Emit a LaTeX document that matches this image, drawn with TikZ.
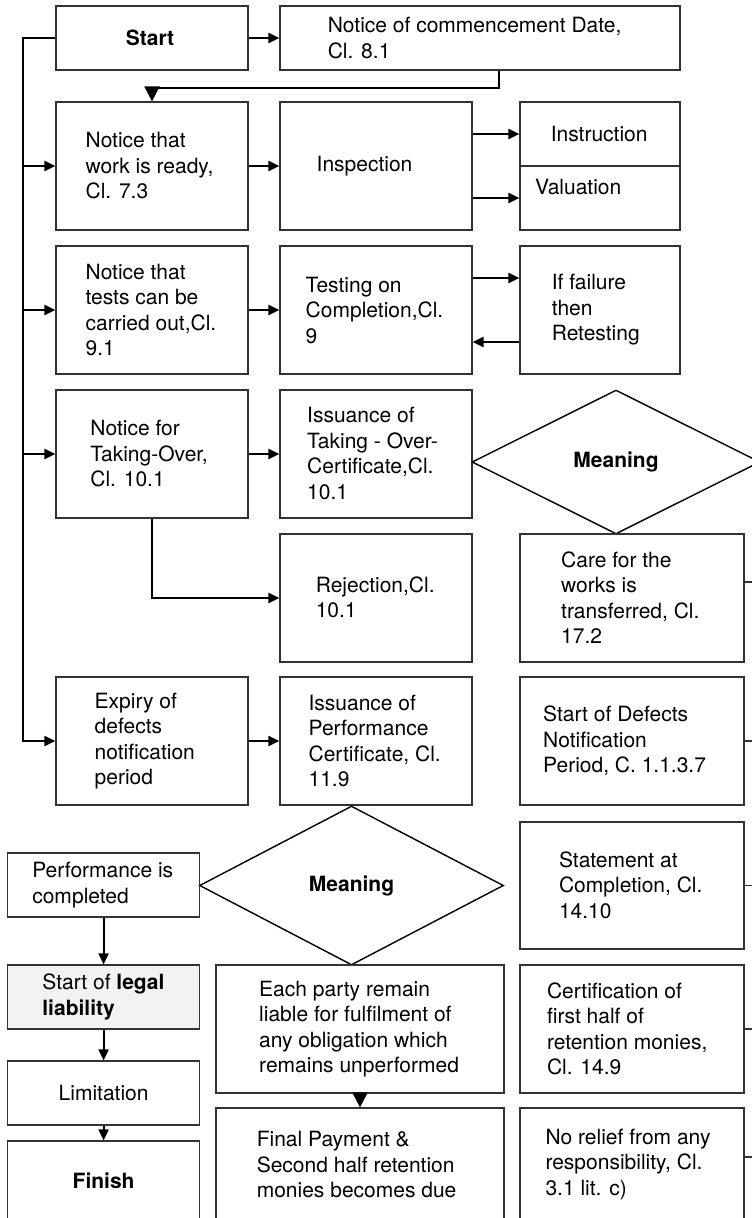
\documentclass[tikz,border=0pt]{standalone}
\usepackage{fontspec}
\setmainfont{TeX Gyre Heros}
\usetikzlibrary{arrows.meta,shapes.geometric,calc}
\definecolor{boxc}{HTML}{333333}
\definecolor{legalfill}{HTML}{F2F2F2}
\begin{document}
\begin{tikzpicture}[x=1pt,y=-1pt,
  box/.style={draw=boxc,line width=1.2pt,rectangle,inner sep=0pt},
  txt/.style={anchor=west,align=left,inner sep=0pt,font=\fontsize{21}{25.5}\selectfont},
  ctxt/.style={align=center,inner sep=0pt,font=\fontsize{21}{25.5}\selectfont},
  dia/.style={diamond,draw=black,line width=1.4pt,inner sep=0pt,font=\fontsize{21}{25.5}\selectfont\bfseries},
  conn/.style={draw=black,line width=2pt},
  arr/.style={conn,-{Triangle[length=11pt,width=10pt]}},
  bigarr/.style={conn,-{Triangle[length=15pt,width=15pt]}},
  stub/.style={draw=boxc,line width=1.2pt}
]
\useasboundingbox (0,0) rectangle (752,1218);
\fill[white] (0,0) rectangle (752,1218);
\clip (0,0) rectangle (752,1218);

% ---- boxes ----
\node[box,minimum width=192pt,minimum height=64pt] (start) at (152,38) {};
\node[box,minimum width=400pt,minimum height=64pt] (comm) at (480,38) {};
\node[box,minimum width=192pt,minimum height=128pt] (ready) at (152,166) {};
\node[box,minimum width=192pt,minimum height=128pt] (insp) at (376,166) {};
\node[box,minimum width=160pt,minimum height=64pt] (instr) at (600,134) {};
\node[box,minimum width=160pt,minimum height=64pt] (valu) at (600,198) {};
\node[box,minimum width=192pt,minimum height=128pt] (tests) at (152,310) {};
\node[box,minimum width=192pt,minimum height=128pt] (testing) at (376,310) {};
\node[box,minimum width=160pt,minimum height=128pt] (fail) at (600,310) {};
\node[box,minimum width=192pt,minimum height=128pt] (takeover) at (152,454) {};
\node[box,minimum width=192pt,minimum height=128pt] (issue) at (376,454) {};
\node[dia,minimum width=288pt,minimum height=144pt] (d1) at (616,462) {Meaning};
\node[box,minimum width=192pt,minimum height=128pt] (reject) at (376,598) {};
\node[box,minimum width=224pt,minimum height=128pt] (care) at (632,598) {};
\node[box,minimum width=192pt,minimum height=128pt] (expiry) at (152,741) {};
\node[box,minimum width=192pt,minimum height=128pt] (perfcert) at (376,741) {};
\node[box,minimum width=224pt,minimum height=128pt] (dnp) at (632,741) {};
\node[dia,minimum width=304pt,minimum height=159pt] (d2) at (351.5,885.5) {Meaning};
\node[box,minimum width=224pt,minimum height=127pt] (statement) at (632,885.5) {};
\node[box,minimum width=192pt,minimum height=64pt] (perfdone) at (103.6,885) {};
\node[box,fill=legalfill,minimum width=192pt,minimum height=64pt] (legal) at (103.6,997) {};
\node[box,minimum width=192pt,minimum height=64pt] (limit) at (103.6,1093) {};
\node[box,minimum width=192pt,minimum height=80pt] (finish) at (103.6,1181) {};
\node[box,minimum width=288pt,minimum height=128pt] (each) at (360,1029) {};
\node[box,minimum width=288pt,minimum height=114pt] (final) at (360,1165) {};
\node[box,minimum width=224pt,minimum height=128pt] (cert) at (632,1029) {};
\node[box,minimum width=224pt,minimum height=114pt] (norelief) at (632,1165) {};

% ---- texts ----
\node[ctxt] (start-t) at (150,38) {\textbf{Start}};
\node[txt] (comm-t) at (327.6,38) {Notice of commencement Date,\\Cl. 8.1};
\node[txt] (ready-t) at (85.4,166) {Notice that\\work is ready,\\Cl. 7.3};
\node[txt] (insp-t) at (316.5,166) {Inspection};
\node[txt] (instr-t) at (550.6,134) {Instruction};
\node[txt] (valu-t) at (534.8,186.7) {Valuation};
\node[txt] (tests-t) at (85.4,310) {Notice that\\tests can be\\carried out,Cl.\\9.1};
\node[txt] (testing-t) at (305.5,310) {Testing on\\Completion,Cl.\\9};
\node[txt] (fail-t) at (551.6,310) {If failure\\then\\Retesting};
\node[txt] (takeover-t) at (90.2,453.5) {Notice for\\Taking-Over,\\Cl. 10.1};
\node[txt] (issue-t) at (307,453.5) {Issuance of\\Taking - Over-\\Certificate,Cl.\\10.1};
\node[txt] (reject-t) at (315.6,597.5) {Rejection,Cl.\\10.1};
\node[txt] (care-t) at (561,597.5) {Care for the\\works is\\transferred, Cl.\\17.2};
\node[txt] (expiry-t) at (94.5,741) {Expiry of\\defects\\notification\\period};
\node[txt] (perfcert-t) at (308.4,741) {Issuance of\\Performance\\Certificate, Cl.\\11.9};
\node[txt] (dnp-t) at (543,741) {Start of Defects\\Notification\\Period, C. 1.1.3.7};
\node[txt] (perfdone-t) at (32.1,885) {Performance is\\completed};
\node[txt] (statement-t) at (558.8,885.3) {Statement at\\Completion, Cl.\\14.10};
\node[txt] (legal-t) at (42.2,997) {Start of \textbf{legal}\\\textbf{liability}};
\node[txt] (each-t) at (259,1029) {Each party remain\\liable for fulfilment of\\any obligation which\\remains unperformed};
\node[txt] (cert-t) at (546.8,1029) {Certification of\\first half of\\retention monies,\\Cl. 14.9};
\node[ctxt] (limit-t) at (103.6,1093) {Limitation};
\node[ctxt] (finish-t) at (103.6,1181) {\textbf{Finish}};
\node[txt] (final-t) at (256.6,1164.5) {Final Payment \&\\Second half retention\\monies becomes due};
\node[txt] (norelief-t) at (545.3,1164.5) {No relief from any\\responsibility, Cl.\\3.1 lit. c)};

% ---- connectors ----
\coordinate (sp) at (23,38);
\draw[arr] (start.west) -- (sp) |- (expiry.west);
\foreach \n in {ready,tests,takeover} {
  \draw[arr] (\n.west -| sp) -- (\n.west);
}
\draw[arr] (start) -- (comm);
\draw[bigarr] ($(comm.south)+(19,0)$) -- ++(0,17) -| (ready.north);
\draw[arr] (ready) -- (insp);
\draw[arr] (insp.east |- instr.west) -- (instr.west);
\draw[arr] (insp.east |- valu.west) -- (valu.west);
\draw[arr] (tests) -- (testing);
\draw[arr] ($(testing.east)+(0,-32)$) -- ($(fail.west)+(0,-32)$);
\draw[arr] ($(fail.west)+(0,32)$) -- ($(testing.east)+(0,32)$);
\draw[arr] (takeover) -- (issue);
\draw[arr] (takeover.south) |- (reject.west);
\draw[arr] (expiry) -- (perfcert);
\draw[arr] (perfdone) -- (legal);
\draw[arr] (legal) -- (limit);
\draw[arr] (limit) -- (finish);
\draw[bigarr] (each) -- (final);

% ---- stubs to the right edge ----
\draw[stub] ($(care.east)+(0,-16)$) -- ++(14,0);
\draw[stub] (dnp.east) -- ++(14,0);
\draw[stub] (statement.east) -- ++(14,0);
\draw[stub] (cert.east) -- ++(14,0);
\draw[stub] ($(norelief.east)+(0,-8)$) -- ++(14,0);
\end{tikzpicture}
\end{document}
